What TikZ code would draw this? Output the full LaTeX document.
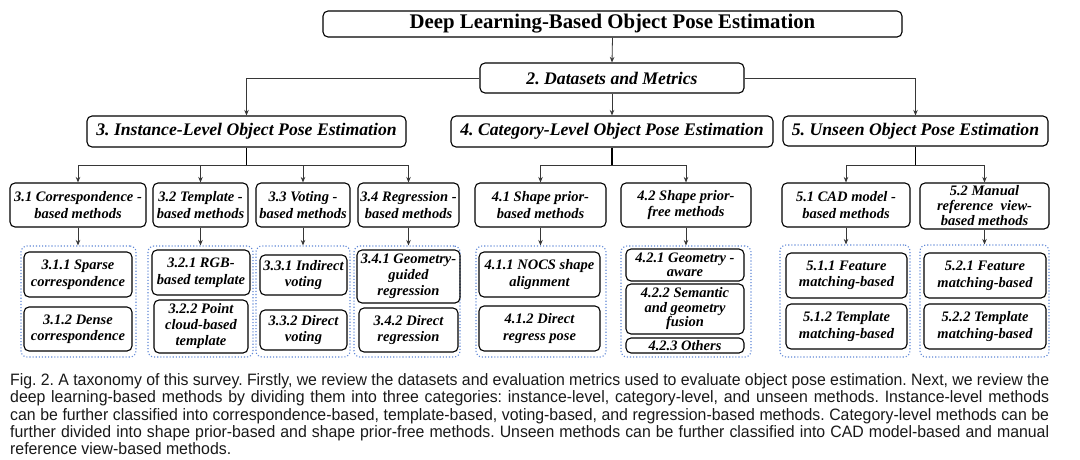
\documentclass[tikz,border=0pt]{standalone}
\usepackage{fontspec}
\setmainfont{Liberation Serif}
\newfontfamily\capfont[FakeStretch=0.96]{Liberation Sans}
\usetikzlibrary{arrows.meta}
\definecolor{grpblue}{RGB}{95,135,215}
\definecolor{conn}{RGB}{55,55,55}
\frenchspacing
\newcommand\capline[1]{{\spaceskip=0.28em plus 1em minus 0.2em\hbox to 1039pt{#1}}}
\tikzset{
 bx/.style={draw=black, line width=1.1pt, rounded corners=5pt, inner sep=0.5pt, align=center,
   font=\fontsize{14.5}{16.5}\selectfont\bfseries\itshape, text=black},
 lvl/.style={bx, font=\fontsize{17.7}{20}\selectfont\bfseries\itshape},
 grp/.style={draw=grpblue, line width=1.1pt, dotted, rounded corners=6pt, inner sep=0pt},
 arr/.style={draw=conn, line width=0.8pt, -{Stealth[length=5.5pt,width=4.5pt]}},
 ln/.style={draw=conn, line width=0.8pt},
 stem/.style={draw=black, line width=1.3pt},
 capt/.style={anchor=base west, inner sep=0pt, font=\capfont\fontsize{16.5}{18}\selectfont\frenchspacing, text=black!90},
}
\begin{document}
\begin{tikzpicture}[x=1pt,y=-1pt]
\fill[white] (0,0) rectangle (1080,459);
\useasboundingbox (0,0) rectangle (1080,459);

% top levels
\node[bx, font=\fontsize{20.8}{24}\selectfont\bfseries, minimum width=579pt, minimum height=26pt] (title) at (612.5,24) {Deep Learning-Based Object Pose Estimation};
\node[lvl, minimum width=264pt, minimum height=30pt] (ds) at (612,78) {2. Datasets and Metrics};
\node[lvl, minimum width=319pt, minimum height=31pt] (inst) at (246.5,131.5) {3. Instance-Level Object Pose Estimation};
\node[lvl, minimum width=322pt, minimum height=31pt] (cat) at (612,131.5) {4. Category-Level Object Pose Estimation};
\node[lvl, minimum width=265pt, minimum height=30pt] (uns) at (915.5,131) {5. Unseen Object Pose Estimation};

% level 3
\node[bx, minimum width=136pt, minimum height=44pt] (b31) at (78,205) {3.1 Correspondence -\\based methods};
\node[bx, minimum width=95pt, minimum height=44pt] (b32) at (200.5,205) {3.2 Template -\\based methods};
\node[bx, minimum width=94pt, minimum height=44pt] (b33) at (303,205) {3.3 Voting -\\based methods};
\node[bx, minimum width=101pt, minimum height=44pt] (b34) at (408.5,205) {3.4 Regression -\\based methods};
\node[bx, minimum width=131pt, minimum height=44pt] (b41) at (540.5,205) {4.1 Shape prior-\\based methods};
\node[bx, minimum width=130pt, minimum height=44pt] (b42) at (686,205) {4.2 Shape prior-\\free methods};
\node[bx, minimum width=128pt, minimum height=44pt] (b51) at (846,205) {5.1 CAD model -\\based methods};
\node[bx, minimum width=129pt, minimum height=46pt, font=\fontsize{14.5}{15}\selectfont\bfseries\itshape] (b52) at (984.5,206) {5.2 Manual\\reference\ \ view-\\based methods};

% groups
\node[grp, minimum width=115pt, minimum height=111pt] (g31) at (78.5,301.5) {};
\node[grp, minimum width=105pt, minimum height=111pt] (g32) at (200.5,301.5) {};
\node[grp, minimum width=94pt, minimum height=111pt] (g33) at (303,301.5) {};
\node[grp, minimum width=106pt, minimum height=111pt] (g34) at (407,301.5) {};
\node[grp, minimum width=130pt, minimum height=111pt] (g41) at (541,301.5) {};
\node[grp, minimum width=130pt, minimum height=111pt] (g42) at (686,301.5) {};
\node[grp, minimum width=130pt, minimum height=112pt] (g51) at (845,301) {};
\node[grp, minimum width=129pt, minimum height=112pt] (g52) at (984.5,301) {};

% leaves
\node[bx, minimum width=108pt, minimum height=45pt] (l311) at (78,274.5) {3.1.1 Sparse\\correspondence};
\node[bx, minimum width=108pt, minimum height=44pt] (l312) at (78,329) {3.1.2 Dense\\correspondence};
\node[bx, minimum width=98pt, minimum height=45pt] (l321) at (201,272.5) {3.2.1 RGB-\\based template};
\node[bx, minimum width=94pt, minimum height=53pt, font=\fontsize{14.5}{16}\selectfont\bfseries\itshape] (l322) at (201,326.5) {3.2.2 Point\\cloud-based\\template};
\node[bx, minimum width=87pt, minimum height=40pt] (l331) at (303.5,275) {3.3.1 Indirect\\voting};
\node[bx, minimum width=87pt, minimum height=40pt] (l332) at (303.5,330) {3.3.2 Direct\\voting};
\node[bx, minimum width=103pt, minimum height=53pt, font=\fontsize{14.5}{16}\selectfont\bfseries\itshape] (l341) at (408.5,276.5) {3.4.1 Geometry-\\guided\\regression};
\node[bx, minimum width=99pt, minimum height=44pt] (l342) at (408.5,330) {3.4.2 Direct\\regression};
\node[bx, minimum width=121pt, minimum height=45pt] (l411) at (539.5,274.5) {4.1.1 NOCS shape\\alignment};
\node[bx, minimum width=121pt, minimum height=45pt] (l412) at (539.5,328.5) {4.1.2 Direct\\regress pose};
\node[bx, minimum width=118pt, minimum height=32pt, font=\fontsize{14.5}{14.5}\selectfont\bfseries\itshape] (l421) at (685,265) {4.2.1 Geometry -\\aware};
\node[bx, minimum width=118pt, minimum height=50pt, font=\fontsize{14.5}{14.5}\selectfont\bfseries\itshape] (l422) at (685,309) {4.2.2 Semantic\\and geometry\\fusion};
\node[bx, minimum width=118pt, minimum height=15pt, inner sep=0pt] (l423) at (685,345.5) {4.2.3 Others};
\node[bx, minimum width=121pt, minimum height=45pt] (l511) at (846.5,275.5) {5.1.1 Feature\\matching-based};
\node[bx, minimum width=121pt, minimum height=45pt] (l512) at (846.5,326.5) {5.1.2 Template\\matching-based};
\node[bx, minimum width=122pt, minimum height=45pt] (l521) at (985,275.5) {5.2.1 Feature\\matching-based};
\node[bx, minimum width=122pt, minimum height=45pt] (l522) at (985,326.5) {5.2.2 Template\\matching-based};

% connectors top
\draw[arr] (title.south) -- (ds.north);
\draw[arr] (ds.west) -| (inst.north);
\draw[arr] (ds.east) -| (uns.north);
\draw[arr] (ds.south) -- (cat.north);

% branches
\coordinate (ib) at (246.5,165);
\coordinate (cb) at (612,165);
\coordinate (ub) at (915.5,165);
\draw[stem] (inst.south) -- (ib);
\draw[stem] (cat.south) -- (cb);
\draw[stem] (uns.south) -- (ub);
\draw[ln] (b31.north |- ib) -- (b34.north |- ib);
\draw[ln] (b41.north |- cb) -- (b42.north |- cb);
\draw[ln] (b51.north |- ub) -- (b52.north |- ub);
\foreach \c/\b in {b31/ib,b32/ib,b33/ib,b34/ib,b41/cb,b42/cb,b51/ub,b52/ub}
  \draw[arr] (\c.north |- \b) -- (\c.north);

% to groups
\foreach \c/\g in {b31/g31,b32/g32,b33/g33,b34/g34,b41/g41,b42/g42,b51/g51,b52/g52}
  \draw[arr] (\c.south) -- (\c.south |- \g.north);

% caption
\node[capt] (cap1) at (10,385) {\capline{Fig. 2. A taxonomy of this survey. Firstly, we review the datasets and evaluation metrics used to evaluate object pose estimation. Next, we review the}};
\node[capt] (cap2) at (10,402.5) {\capline{deep learning-based methods by dividing them into three categories: instance-level, category-level, and unseen methods. Instance-level methods}};
\node[capt] (cap3) at (10,420) {\capline{can be further classified into correspondence-based, template-based, voting-based, and regression-based methods. Category-level methods can be}};
\node[capt] (cap4) at (10,437.5) {\capline{further divided into shape prior-based and shape prior-free methods. Unseen methods can be further classified into CAD model-based and manual}};
\node[capt] (cap5) at (10,454.5) {reference view-based methods.};
\end{tikzpicture}
\end{document}
